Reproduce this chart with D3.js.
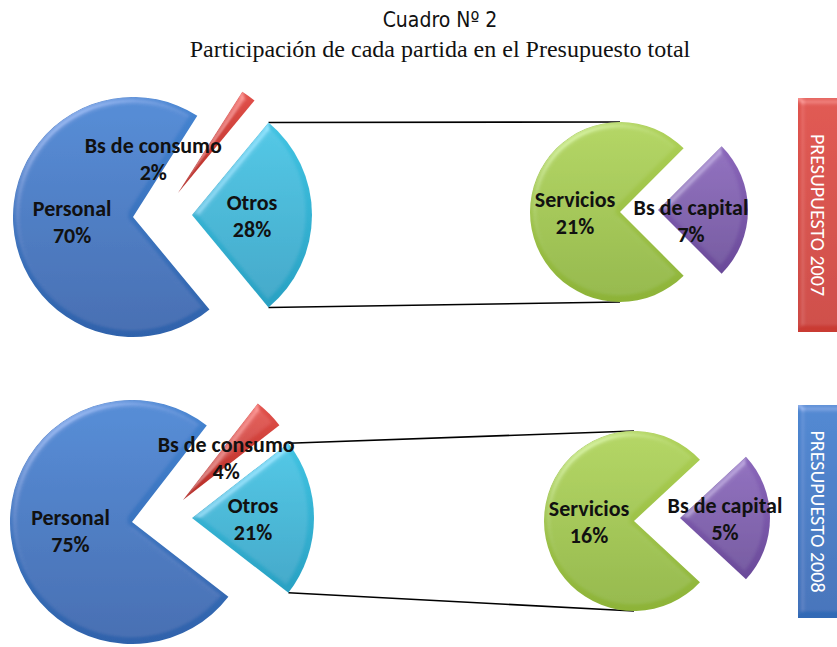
<!DOCTYPE html>
<html>
<head>
<meta charset="utf-8">
<script src="https://cdn.jsdelivr.net/npm/d3@7"></script>
<style>
  html, body { margin: 0; padding: 0; background: #fff; }
  svg { display: block; }
</style>
</head>
<body>
<svg id="chart" width="837" height="647"></svg>
<script>
// Budget share per item, two years, shown as "pie of pie" charts
const years = ["2007", "2008"];
const mainCategories = ["Personal", "Bs de consumo", "Otros"];
const main2007 = [70, 2, 28];
const main2008 = [75, 4, 21];
const subCategories = ["Servicios", "Bs de capital"];
const sub2007 = [21, 7];
const sub2008 = [16, 5];
const bannerLabels = ["PRESUPUESTO 2007", "PRESUPUESTO 2008"];
const titleText = "Cuadro Nº 2";
const subtitleText = "Participación de cada partida en el Presupuesto total";

const mainValues = [main2007, main2008];
const subValues = [sub2007, sub2008];

const svg = d3.select("#chart");
const defs = svg.append("defs");

// soft bevel used on every slice and banner
const bevel = defs.append("filter").attr("id", "bevel")
  .attr("x", "-10%").attr("y", "-10%").attr("width", "120%").attr("height", "120%");
bevel.append("feGaussianBlur").attr("in", "SourceAlpha").attr("stdDeviation", 3).attr("result", "b");
const spec = bevel.append("feSpecularLighting").attr("in", "b").attr("surfaceScale", 3)
  .attr("specularConstant", 0.7).attr("specularExponent", 18)
  .attr("lighting-color", "#ffffff").attr("result", "s");
spec.append("feDistantLight").attr("azimuth", 235).attr("elevation", 40);
bevel.append("feComposite").attr("in", "s").attr("in2", "SourceAlpha").attr("operator", "in").attr("result", "si");
bevel.append("feComposite").attr("in", "SourceGraphic").attr("in2", "si")
  .attr("operator", "arithmetic").attr("k1", 0).attr("k2", 1).attr("k3", 0.32).attr("k4", 0);

// vertical gradient per category
const palette = {
  "Personal":      ["#4585d2", "#2f62ab"],
  "Bs de consumo": ["#e2504a", "#b52c26"],
  "Otros":         ["#40c3e2", "#29a1c3"],
  "Servicios":     ["#aed157", "#8db338"],
  "Bs de capital": ["#8a66ba", "#6a4a99"],
  "b2007":         ["#dc4840", "#c93a33"],
  "b2008":         ["#3f80cd", "#3069b5"]
};
const gid = k => "g_" + k.replace(/\s+/g, "_");
Object.entries(palette).forEach(([k, [c0, c1]]) => {
  const g = defs.append("linearGradient").attr("id", gid(k))
    .attr("x1", 0).attr("y1", 0).attr("x2", 0).attr("y2", 1);
  g.append("stop").attr("offset", "0%").attr("stop-color", c0);
  g.append("stop").attr("offset", "100%").attr("stop-color", c1);
});

// titles
svg.append("text")
  .attr("x", 440).attr("y", 27).attr("text-anchor", "middle")
  .attr("font-family", "'Liberation Sans Narrow', 'Arial Narrow', 'DejaVu Sans Condensed', sans-serif")
  .attr("font-stretch", "condensed")
  .attr("font-size", 21).attr("fill", "#111")
  .text(titleText);
svg.append("text")
  .attr("x", 440).attr("y", 57).attr("text-anchor", "middle")
  .attr("font-family", "'Liberation Serif', 'Times New Roman', serif")
  .attr("font-size", 24).attr("fill", "#111")
  .text(subtitleText);

// per-row layout
const layout = [
  { main: { cx: 133, cy: 217, r: 120 }, explode: { "Otros": [59, -2], "Bs de consumo": [45, -24] },
    consumoLabelShift: [-60, 14],
    sub: { cx: 620, cy: 212, r: 90 }, capOffset: [38, -2], capLabelShift: [-12, 10],
    banner: { x: 798, y: 98, h: 234 } },
  { main: { cx: 132, cy: 522, r: 122 }, explode: { "Otros": [60, -4], "Bs de consumo": [51, -22] },
    consumoLabelShift: [0, 0],
    sub: { cx: 634, cy: 521, r: 90 }, capOffset: [46, -3], capLabelShift: [0, 0],
    banner: { x: 798, y: 405, h: 213 } }
];

const labelFont = "Carlito, Calibri, Lato, sans-serif";

function drawLabel(g, x, y, name, value) {
  const t = g.append("text").attr("text-anchor", "middle")
    .attr("font-family", labelFont).attr("font-weight", "bold")
    .attr("font-size", 22).attr("fill", "#111");
  t.append("tspan").attr("x", x).attr("y", y - 5).text(name);
  t.append("tspan").attr("x", x).attr("y", y + 22).text(value + "%");
}

years.forEach((yr, i) => {
  const L = layout[i];
  const mv = mainValues[i];
  const sv = subValues[i];
  const g = svg.append("g");

  // main pie: "Otros" centred at 3 o'clock, slices clockwise
  const otrosIdx = mainCategories.indexOf("Otros");
  const total = d3.sum(mv);
  const ang = v => v / total * 2 * Math.PI;
  const otrosStart = Math.PI / 2 - ang(mv[otrosIdx]) / 2;
  const before = d3.sum(mv.slice(0, otrosIdx));
  const mainPie = d3.pie().sort(null).value(d => d)
    .startAngle(otrosStart - ang(before))
    .endAngle(otrosStart - ang(before) + 2 * Math.PI);
  const mainArcs = mainPie(mv);
  const mainArc = d3.arc().innerRadius(0).outerRadius(L.main.r);

  // secondary pie: "Bs de capital" centred at 3 o'clock
  const subTotal = d3.sum(sv);
  const sang = v => v / subTotal * 2 * Math.PI;
  const capStart = Math.PI / 2 - sang(sv[1]) / 2;
  const subPie = d3.pie().sort(null).value(d => d)
    .startAngle(capStart - sang(sv[0]))
    .endAngle(capStart - sang(sv[0]) + 2 * Math.PI);
  const subArcs = subPie(sv);
  const subArc = d3.arc().innerRadius(0).outerRadius(L.sub.r);

  // connector lines from the "Otros" slice edges to the secondary pie
  const oArc = mainArcs[otrosIdx];
  const oOff = L.explode["Otros"];
  const ox = L.main.cx + oOff[0], oy = L.main.cy + oOff[1];
  const pt = a => [ox + L.main.r * Math.sin(a), oy - L.main.r * Math.cos(a)];
  const topPt = pt(oArc.startAngle), botPt = pt(oArc.endAngle);
  g.append("line").attr("x1", topPt[0]).attr("y1", topPt[1])
    .attr("x2", L.sub.cx).attr("y2", L.sub.cy - L.sub.r)
    .attr("stroke", "#000").attr("stroke-width", 1.6);
  g.append("line").attr("x1", botPt[0]).attr("y1", botPt[1])
    .attr("x2", L.sub.cx).attr("y2", L.sub.cy + L.sub.r)
    .attr("stroke", "#000").attr("stroke-width", 1.6);

  // main slices
  mainArcs.forEach((a, k) => {
    const cat = mainCategories[k];
    const off = L.explode[cat] || [0, 0];
    g.append("path")
      .attr("transform", `translate(${L.main.cx + off[0]},${L.main.cy + off[1]})`)
      .attr("d", mainArc(a))
      .attr("fill", `url(#${gid(cat)})`)
      .attr("filter", "url(#bevel)");
  });

  // secondary slices
  subArcs.forEach((a, k) => {
    const cat = subCategories[k];
    const off = k === 1 ? L.capOffset : [0, 0];
    g.append("path")
      .attr("transform", `translate(${L.sub.cx + off[0]},${L.sub.cy + off[1]})`)
      .attr("d", subArc(a))
      .attr("fill", `url(#${gid(cat)})`)
      .attr("filter", "url(#bevel)");
  });

  // labels
  mainArcs.forEach((a, k) => {
    const cat = mainCategories[k];
    const off = L.explode[cat] || [0, 0];
    const c = mainArc.centroid(a);
    let x = L.main.cx + off[0] + c[0], y = L.main.cy + off[1] + c[1];
    if (cat === "Bs de consumo") { x += L.consumoLabelShift[0]; y += L.consumoLabelShift[1]; }
    if (cat === "Personal") { x -= 1; }
    drawLabel(g, x, y, cat, a.data);
  });
  subArcs.forEach((a, k) => {
    const cat = subCategories[k];
    const off = k === 1 ? L.capOffset : [0, 0];
    const c = subArc.centroid(a);
    let x = L.sub.cx + off[0] + c[0], y = L.sub.cy + off[1] + c[1];
    if (k === 1) { x += L.capLabelShift[0]; y += L.capLabelShift[1]; }
    drawLabel(g, x, y, cat, a.data);
  });

  // year banner on the right edge
  const B = L.banner;
  g.append("rect").attr("x", B.x).attr("y", B.y).attr("width", 50).attr("height", B.h)
    .attr("fill", `url(#${gid("b" + yr)})`).attr("filter", "url(#bevel)");
  g.append("text")
    .attr("transform", `translate(${B.x + 13},${B.y + B.h / 2}) rotate(90)`)
    .attr("text-anchor", "middle")
    .attr("font-family", "Carlito, Calibri, Lato, sans-serif")
    .attr("font-size", 20).attr("fill", "#fff")
    .text(bannerLabels[i]);
});
</script>
</body>
</html>
